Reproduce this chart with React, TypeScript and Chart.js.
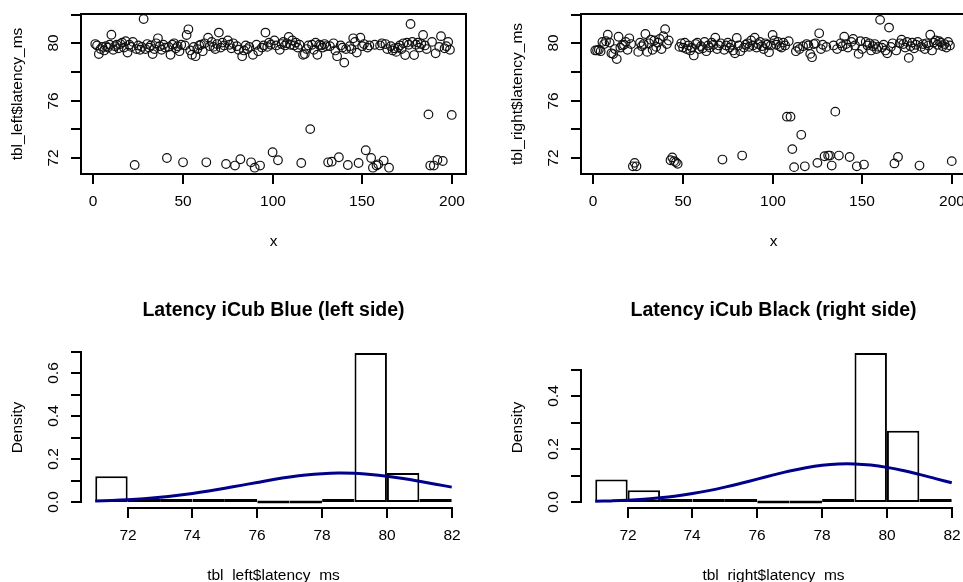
import React, { useEffect, useRef } from 'react';
import { Chart, registerables } from 'chart.js';

Chart.register(...registerables);

// ---------- data ----------
const leftLatency = [
  79.95, 79.85, 79.25, 79.6, 79.75, 79.5, 79.8, 79.7, 79.9, 80.6,
  79.55, 79.8, 79.9, 79.65, 79.95, 80.05, 79.7, 80.15, 79.35, 79.9,
  79.75, 80.1, 71.49, 79.6, 79.85, 79.55, 79.75, 81.7, 79.6, 79.95,
  79.7, 79.85, 79.25, 79.6, 80.0, 80.35, 79.8, 79.55, 79.9, 79.7,
  71.98, 79.75, 79.2, 79.9, 80.0, 79.65, 79.8, 79.45, 79.9, 71.68,
  79.85, 80.58, 80.98, 79.5, 79.2, 79.75, 79.1, 79.6, 79.85, 79.9,
  79.45, 80.0, 71.68, 80.4, 79.8, 80.1, 79.75, 79.6, 79.95, 80.75,
  79.7, 80.05, 79.85, 71.56, 80.2, 79.9, 79.65, 80.0, 71.45, 79.8,
  79.55, 71.89, 79.1, 79.5, 79.85, 79.6, 79.75, 71.68, 79.2, 71.3,
  79.9, 79.45, 71.45, 79.7, 79.85, 80.75, 79.75, 80.05, 79.9, 72.38,
  80.2, 79.85, 71.82, 79.55, 79.95, 80.1, 79.85, 80.0, 80.45, 79.9,
  80.2, 79.85, 80.05, 79.7, 79.9, 71.63, 79.2, 79.25, 79.6, 79.85,
  74.0, 79.9, 79.55, 80.05, 79.2, 79.9, 79.85, 79.7, 79.95, 79.8,
  71.68, 79.8, 71.72, 80.0, 79.5, 79.1, 72.03, 79.85, 79.7, 78.65,
  79.6, 71.49, 79.8, 79.6, 80.35, 80.1, 79.35, 71.63, 80.4, 79.8,
  79.95, 72.52, 79.7, 79.85, 71.98, 71.3, 79.9, 71.45, 71.54, 79.85,
  80.0, 71.8, 79.95, 79.6, 71.3, 79.8, 79.5, 79.65, 79.4, 79.7,
  79.85, 79.6, 80.0, 79.18, 80.05, 79.9, 81.35, 80.1, 79.18, 79.9,
  80.05, 79.7, 79.95, 80.58, 79.85, 79.6, 75.03, 71.45, 80.1, 71.45,
  79.3, 71.84, 79.75, 80.5, 71.77, 79.65, 79.8, 80.1, 79.55, 74.99,
];

const rightLatency = [
  79.5, 79.5, 79.55, 79.45, 80.1, 79.95, 80.15, 80.6, 80.05, 79.3,
  79.25, 79.6, 78.9, 80.46, 79.7, 79.85, 79.9, 80.1, 79.55, 80.35,
  79.95, 71.4, 71.64, 71.4, 79.4, 80.05, 79.8, 79.95, 80.65, 79.4,
  80.0, 80.25, 79.55, 80.2, 79.75, 80.05, 80.3, 79.6, 80.5, 80.99,
  79.95, 80.2, 71.82, 72.02, 71.76, 71.69, 71.57, 79.75, 80.0, 79.7,
  80.05, 79.6, 79.85, 79.5, 79.7, 79.15, 79.95, 80.05, 79.6, 79.8,
  79.65, 80.1, 79.45, 79.85, 79.7, 80.05, 79.9, 80.4, 79.6, 79.85,
  80.0, 71.87, 79.55, 79.85, 80.05, 79.7, 79.9, 79.5, 79.3, 80.37,
  79.85, 79.45, 72.15, 79.7, 79.9, 80.0, 79.75, 80.2, 79.85, 80.4,
  79.7, 79.95, 80.1, 79.8, 79.6, 80.0, 79.9, 79.38, 79.85, 80.58,
  80.2, 79.9, 80.1, 79.8, 79.7, 80.05, 79.85, 74.87, 80.15, 74.87,
  72.6, 71.34, 79.45, 79.75, 79.6, 73.6, 79.8, 71.4, 79.95, 79.85,
  79.26, 79.03, 79.95, 80.0, 71.64, 80.7, 79.6, 79.9, 72.1, 79.75,
  72.15, 72.15, 71.45, 79.85, 75.22, 79.6, 72.15, 80.0, 79.8, 80.46,
  79.95, 79.7, 72.05, 80.1, 80.3, 79.85, 71.4, 79.26, 80.15, 79.6,
  71.52, 80.1, 79.85, 80.0, 79.5, 79.8, 79.95, 79.6, 79.75, 81.64,
  79.7, 79.9, 79.5, 79.3, 81.1, 79.75, 80.0, 71.6, 79.5, 72.05,
  80.0, 80.25, 79.95, 79.7, 80.1, 78.98, 79.8, 80.05, 79.65, 79.9,
  80.1, 71.45, 79.75, 79.95, 79.6, 80.0, 79.85, 80.6, 79.5, 80.05,
  80.2, 79.9, 80.15, 80.05, 79.8, 79.95, 79.7, 80.1, 79.85, 71.76,
];

const histBreaks = [71, 72, 73, 74, 75, 76, 77, 78, 79, 80, 81, 82];
const leftDensity = [0.12, 0.01, 0.005, 0.01, 0.005, 0, 0, 0.005, 0.695, 0.135, 0.01];
const rightDensity = [0.085, 0.045, 0.005, 0.01, 0.005, 0, 0, 0.005, 0.565, 0.27, 0.01];

const curveX = [71, 71.5, 72, 72.5, 73, 73.5, 74, 74.5, 75, 75.5, 76, 76.5, 77, 77.5, 78, 78.5, 79, 79.5, 80, 80.5, 81, 81.5, 82];
const leftCurve = [0.0049, 0.0075, 0.011, 0.0159, 0.0223, 0.0303, 0.040, 0.0514, 0.0641, 0.0777, 0.0915, 0.1048, 0.1165, 0.126, 0.1322, 0.135, 0.1338, 0.1288, 0.1206, 0.1097, 0.097, 0.0833, 0.0695];
const rightCurve = [0.0027, 0.0044, 0.0069, 0.0107, 0.0159, 0.023, 0.032, 0.0432, 0.0564, 0.0712, 0.087, 0.1028, 0.1176, 0.1301, 0.1393, 0.1443, 0.1445, 0.1401, 0.1314, 0.1192, 0.1047, 0.0889, 0.073];

const scatterXTicks = [0, 50, 100, 150, 200];
const scatterXTickLabels = ['0', '50', '100', '150', '200'];
const scatterYTicks = [72, 74, 76, 78, 80, 82];
const scatterYTickLabels = ['72', '', '76', '', '80', ''];
const histXTicks = [72, 74, 76, 78, 80, 82];
const histXTickLabels = ['72', '74', '76', '78', '80', '82'];
const leftHistYTicks = [0, 0.1, 0.2, 0.3, 0.4, 0.5, 0.6, 0.7];
const leftHistYTickLabels = ['0.0', '', '0.2', '', '0.4', '', '0.6', ''];
const rightHistYTicks = [0, 0.1, 0.2, 0.3, 0.4, 0.5];
const rightHistYTickLabels = ['0.0', '', '0.2', '', '0.4', ''];

// ---------- styling ----------
const FONT = '"Liberation Sans", Arial, Helvetica, sans-serif';
const BASE = 15.5;
const TITLE = 19.5;
const CANVAS_W = 500;
const CANVAS_H = 291;

type AxesCfg = {
  box: boolean;
  xTicks: number[];
  xLabels: string[];
  yTicks: number[];
  yLabels: string[];
  xTitle: string;
  yTitle: string;
  title?: string;
};

function makeRAxes(cfg: AxesCfg) {
  return {
    id: 'rAxes',
    afterDraw(chart: any) {
      const { ctx, chartArea: a, scales } = chart;
      const xs = scales.x;
      const ys = scales.y;
      const L = Math.round(a.left);
      const B = Math.round(a.bottom);
      ctx.save();
      ctx.strokeStyle = '#000';
      ctx.fillStyle = '#000';
      ctx.lineWidth = 2;
      ctx.lineCap = 'butt';
      if (cfg.box) {
        ctx.strokeRect(L, Math.round(a.top), Math.round(a.right) - L, B - Math.round(a.top));
      }
      // x axis
      const xp = cfg.xTicks.map((v) => Math.round(xs.getPixelForValue(v)));
      ctx.beginPath();
      ctx.moveTo(xp[0] - 1, B);
      ctx.lineTo(xp[xp.length - 1] + 1, B);
      xp.forEach((px) => {
        ctx.moveTo(px, B);
        ctx.lineTo(px, B + 10);
      });
      ctx.stroke();
      // y axis
      const yp = cfg.yTicks.map((v) => Math.round(ys.getPixelForValue(v)));
      ctx.beginPath();
      ctx.moveTo(L, yp[0] + 1);
      ctx.lineTo(L, yp[yp.length - 1] - 1);
      yp.forEach((py) => {
        ctx.moveTo(L, py);
        ctx.lineTo(L - 10, py);
      });
      ctx.stroke();

      ctx.font = `${BASE}px ${FONT}`;
      ctx.textAlign = 'center';
      ctx.textBaseline = 'middle';
      xp.forEach((px, i) => {
        if (cfg.xLabels[i]) ctx.fillText(cfg.xLabels[i], px, B + 28);
      });
      ctx.fillText(cfg.xTitle, (a.left + a.right) / 2, B + 67.5);
      yp.forEach((py, i) => {
        if (!cfg.yLabels[i]) return;
        ctx.save();
        ctx.translate(L - 27.5, py);
        ctx.rotate(-Math.PI / 2);
        ctx.fillText(cfg.yLabels[i], 0, 0);
        ctx.restore();
      });
      ctx.save();
      ctx.translate(L - 63, (a.top + a.bottom) / 2);
      ctx.rotate(-Math.PI / 2);
      ctx.fillText(cfg.yTitle, 0, 0);
      ctx.restore();
      if (cfg.title) {
        ctx.font = `bold ${TITLE}px ${FONT}`;
        ctx.fillText(cfg.title, (a.left + a.right) / 2, a.top - 36.5);
      }
      ctx.restore();
    },
  };
}

function scatterConfig(values: number[], yTitle: string): any {
  return {
    type: 'scatter',
    data: {
      datasets: [
        {
          data: values.map((y, i) => ({ x: i + 1, y })),
          pointStyle: 'circle',
          pointRadius: 4.3,
          pointBorderWidth: 1.2,
          borderColor: '#111',
          backgroundColor: 'rgba(0,0,0,0)',
          pointBackgroundColor: 'rgba(0,0,0,0)',
          pointBorderColor: '#111',
        },
      ],
    },
    options: {
      responsive: false,
      animation: false,
      events: [],
      layout: { padding: { left: 81, right: 34, top: 14, bottom: 117 } },
      scales: {
        x: { type: 'linear', min: -6.96, max: 207.96, display: false },
        y: { type: 'linear', min: 70.86, max: 82.05, display: false },
      },
      plugins: { legend: { display: false }, tooltip: { enabled: false } },
    },
    plugins: [
      makeRAxes({
        box: true,
        xTicks: scatterXTicks,
        xLabels: scatterXTickLabels,
        yTicks: scatterYTicks,
        yLabels: scatterYTickLabels,
        xTitle: 'x',
        yTitle,
      }),
    ],
  };
}

function histConfig(
  density: number[],
  curve: number[],
  yMin: number,
  yMax: number,
  yTicks: number[],
  yLabels: string[],
  xTitle: string,
  title: string
): any {
  return {
    type: 'bar',
    data: {
      datasets: [
        {
          type: 'line',
          data: curveX.map((x, i) => ({ x, y: curve[i] })),
          borderColor: '#00008B',
          borderWidth: 3,
          pointRadius: 0,
          tension: 0.4,
          fill: false,
          order: 0,
        },
        {
          type: 'bar',
          data: density.map((y, i) => ({ x: (histBreaks[i] + histBreaks[i + 1]) / 2, y })),
          backgroundColor: '#ffffff',
          borderColor: '#000',
          borderWidth: 2,
          borderSkipped: false,
          minBarLength: 3,
          inflateAmount: 0,
          barPercentage: 1,
          categoryPercentage: 1,
          order: 1,
        },
      ],
    },
    options: {
      responsive: false,
      animation: false,
      events: [],
      layout: { padding: { left: 81, right: 34, top: 56, bottom: 74 } },
      scales: {
        x: { type: 'linear', min: 70.56, max: 82.44, offset: false, display: false },
        y: { type: 'linear', min: yMin, max: yMax, display: false },
      },
      plugins: { legend: { display: false }, tooltip: { enabled: false } },
    },
    plugins: [
      makeRAxes({
        box: false,
        xTicks: histXTicks,
        xLabels: histXTickLabels,
        yTicks,
        yLabels,
        xTitle,
        yTitle: 'Density',
        title,
      }),
    ],
  };
}

function Panel({ left, top, make }: { left: number; top: number; make: () => any }) {
  const ref = useRef<HTMLCanvasElement>(null);
  useEffect(() => {
    const chart = new Chart(ref.current as HTMLCanvasElement, make());
    return () => chart.destroy();
  }, []);
  return (
    <canvas
      ref={ref}
      width={CANVAS_W}
      height={CANVAS_H}
      style={{ position: 'absolute', left, top, width: CANVAS_W, height: CANVAS_H, display: 'block' }}
    />
  );
}

export default function App() {
  return (
    <div
      style={{
        position: 'absolute',
        left: 0,
        top: 0,
        width: 963,
        height: 582,
        overflow: 'hidden',
        background: '#ffffff',
      }}
    >
      <Panel left={0} top={0} make={() => scatterConfig(leftLatency, 'tbl_left$latency_ms')} />
      <Panel left={500} top={0} make={() => scatterConfig(rightLatency, 'tbl_right$latency_ms')} />
      <Panel
        left={0}
        top={291}
        make={() =>
          histConfig(leftDensity, leftCurve, -0.0278, 0.7228, leftHistYTicks, leftHistYTickLabels, 'tbl_left$latency_ms', 'Latency iCub Blue (left side)')
        }
      />
      <Panel
        left={500}
        top={291}
        make={() =>
          histConfig(rightDensity, rightCurve, -0.0226, 0.5876, rightHistYTicks, rightHistYTickLabels, 'tbl_right$latency_ms', 'Latency iCub Black (right side)')
        }
      />
    </div>
  );
}
